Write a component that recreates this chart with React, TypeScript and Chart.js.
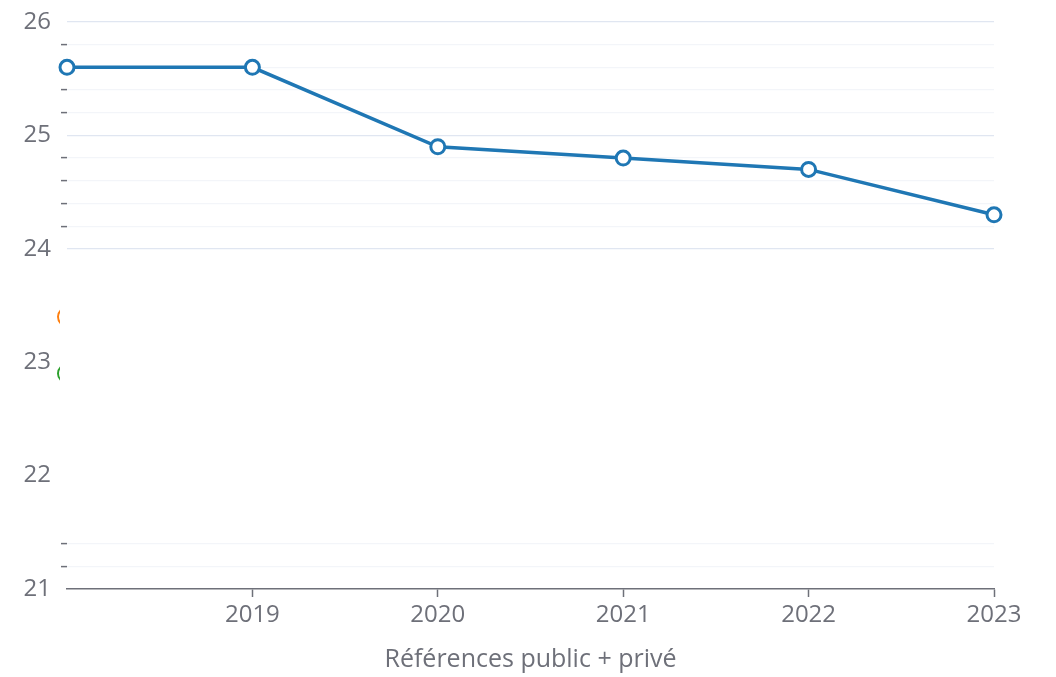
import React, { useEffect, useRef } from "react";
import { Chart, registerables } from "chart.js";

Chart.register(...registerables);

const years = ["2018", "2019", "2020", "2021", "2022", "2023"];
const mainSeries = [25.6, 25.6, 24.9, 24.8, 24.7, 24.3];
const orangeSeries = [23.4, null, null, null, null, null];
const greenSeries = [22.9, null, null, null, null, null];
const yMin = 21;
const yMax = 26;
const yStep = 0.2;
const xTitle = "Références public + privé";

const FONT = "'Open Sans', 'Noto Sans', sans-serif";
const TEXT = "#6E7079";

const isInt = (v: number) => Math.abs(v - Math.round(v)) < 1e-6;
const inMinorZone = (v: number) => (v > 24 + 1e-6 && v < 26 - 1e-6) || (v > 21 + 1e-6 && v < 21.4 + 1e-6);

export default function App() {
  const ref = useRef<HTMLCanvasElement | null>(null);
  useEffect(() => {
    if (!ref.current) return;
    const chart = new Chart(ref.current, {
      type: "line",
      data: {
        labels: years,
        datasets: [
          {
            data: mainSeries,
            borderColor: "#1f77b4",
            borderWidth: 3.5,
            pointRadius: 7,
            pointBorderWidth: 3,
            pointBackgroundColor: "#ffffff",
            pointBorderColor: "#1f77b4",
            tension: 0,
            clip: 12,
          },
          {
            data: orangeSeries,
            borderColor: "#ff7f0e",
            pointRadius: 9,
            pointBorderWidth: 2,
            pointBackgroundColor: "#ffffff",
            pointBorderColor: "#ff7f0e",
            showLine: false,
          },
          {
            data: greenSeries,
            borderColor: "#2ca02c",
            pointRadius: 9,
            pointBorderWidth: 2,
            pointBackgroundColor: "#ffffff",
            pointBorderColor: "#2ca02c",
            showLine: false,
          },
        ] as any,
      },
      options: {
        animation: false,
        responsive: false,
        maintainAspectRatio: false,
        layout: { padding: { top: 21, right: 62, bottom: 0, left: 0 } },
        plugins: { legend: { display: false }, tooltip: { enabled: false } },
        scales: {
          x: {
            offset: false,
            afterFit: (s: any) => {
              s.height = 88;
            },
            border: { display: true, color: TEXT, width: 1.5 },
            grid: {
              drawOnChartArea: false,
              drawTicks: true,
              tickLength: 8,
              tickWidth: 1.5,
              tickColor: (ctx: any) => (ctx.index === 0 ? "rgba(0,0,0,0)" : TEXT),
            },
            ticks: {
              color: TEXT,
              font: { family: FONT, size: 24 },
              padding: 4,
              maxRotation: 0,
              autoSkip: false,
              callback: (_v: any, i: number) => (i === 0 ? "" : years[i]),
            },
            title: {
              display: true,
              text: xTitle,
              color: TEXT,
              font: { family: FONT, size: 25 },
              padding: { top: 4, bottom: 2 },
            },
          },
          y: {
            min: yMin,
            max: yMax,
            afterFit: (s: any) => {
              s.width = 67;
            },
            border: { display: false },
            grid: {
              drawTicks: true,
              tickLength: 6,
              lineWidth: 1.2,
              tickWidth: 1.5,
              color: (ctx: any) => {
                const v = ctx.tick ? ctx.tick.value : 0;
                if (isInt(v)) return v >= 24 && v <= 26 ? "#E0E6F1" : "rgba(0,0,0,0)";
                return inMinorZone(v) ? "#F3F5F9" : "rgba(0,0,0,0)";
              },
              tickColor: (ctx: any) => {
                const v = ctx.tick ? ctx.tick.value : 0;
                if (isInt(v)) return "rgba(0,0,0,0)";
                return inMinorZone(v) ? TEXT : "rgba(0,0,0,0)";
              },
            },
            ticks: {
              stepSize: yStep,
              autoSkip: false,
              color: TEXT,
              padding: 10,
              font: { family: FONT, size: 24, lineHeight: 1 },
              callback: (v: any) => (isInt(Number(v)) ? String(Math.round(Number(v))) : ""),
            },
          },
        },
      },
    });
    const area = chart.chartArea;
    const w = area.right - area.left;
    const sliverClip = { left: 12, top: 0, right: -(w + 7), bottom: 0 };
    (chart.data.datasets[1] as any).clip = sliverClip;
    (chart.data.datasets[2] as any).clip = sliverClip;
    chart.update();
    return () => chart.destroy();
  }, []);
  return (
    <div style={{ position: "fixed", left: 0, top: 0, width: 1056, height: 677, background: "#fff" }}>
      <canvas ref={ref} width={1056} height={677} style={{ width: 1056, height: 677 }} />
    </div>
  );
}
